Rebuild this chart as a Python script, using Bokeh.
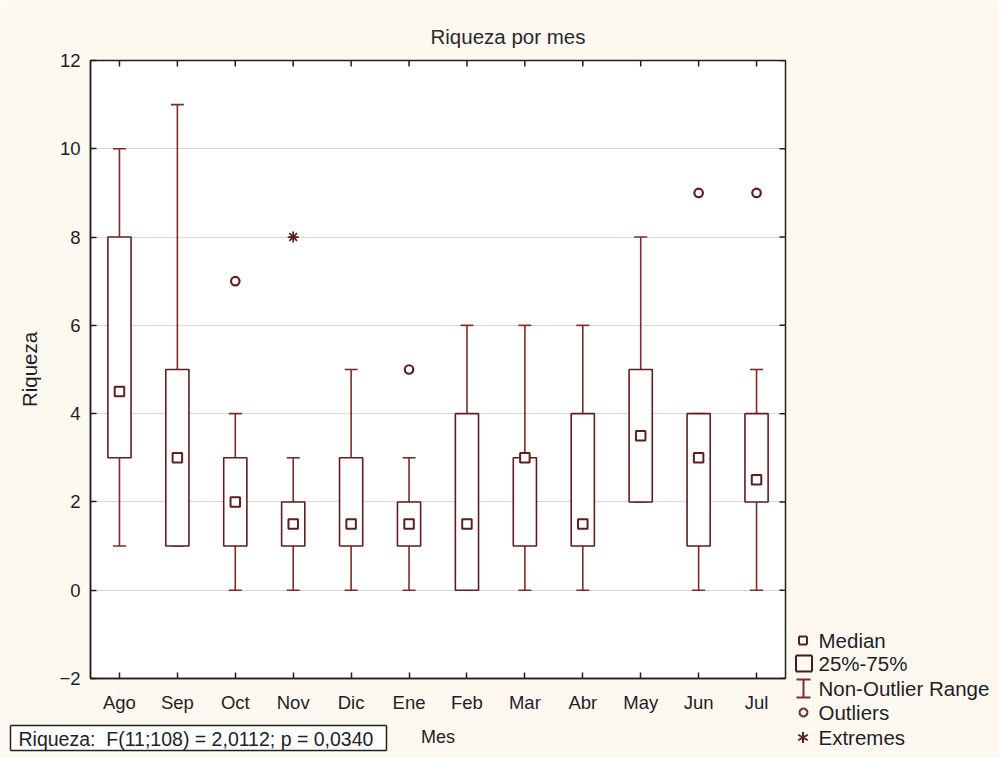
import numpy as np
from bokeh.plotting import figure
from bokeh.models import Range1d, FixedTicker, ColumnDataSource
from bokeh.core.properties import value
from bokeh.embed import file_html
from bokeh.resources import INLINE

# Monthly richness summary (box-and-whisker statistics)
months = ["Ago", "Sep", "Oct", "Nov", "Dic", "Ene", "Feb", "Mar", "Abr", "May", "Jun", "Jul"]
median = [4.5, 3, 2, 1.5, 1.5, 1.5, 1.5, 3, 1.5, 3.5, 3, 2.5]
q1 = [3, 1, 1, 1, 1, 1, 0, 1, 1, 2, 1, 2]
q3 = [8, 5, 3, 2, 3, 2, 4, 3, 4, 5, 4, 4]
lo = [1, 1, 0, 0, 0, 0, 0, 0, 0, 2, 0, 0]
hi = [10, 11, 4, 3, 5, 3, 6, 6, 6, 8, 4, 5]
outlier_month = ["Oct", "Ene", "Jun", "Jul"]
outlier_val = [7, 5, 9, 9]
extreme_month = ["Nov"]
extreme_val = [8]
y_ticks = [-2, 0, 2, 4, 6, 8, 10, 12]
stat_text = "Riqueza:\u00a0\u00a0F(11;108) = 2,0112; p = 0,0340"
legend_labels = ["Median", "25%-75%", "Non-Outlier Range", "Outliers", "Extremes"]

BG = "#fdf9f0"
BOX = "#5e1e1e"
WHISK = "#7f2a2a"
FRAME = "#202020"
FONT = "Liberation Sans"
TXT = "#1e1e28"
W, H = 999, 758
LEFT, RIGHT, TOP, BOTTOM = 90, 214, 60, 80
FR_R, FR_B = W - RIGHT, H - BOTTOM

pos = list(range(len(months)))
src = ColumnDataSource(dict(x=pos, med=median, q1=q1, q3=q3, lo=lo, hi=hi))
out_x = [months.index(m) for m in outlier_month]
ext_x = [months.index(m) for m in extreme_month]

p = figure(
    x_range=Range1d(-0.5, len(months) - 0.5),
    y_range=Range1d(-2, 12),
    width=W, height=H,
    min_border_left=LEFT, min_border_right=RIGHT,
    min_border_top=TOP, min_border_bottom=BOTTOM,
    output_backend="svg", toolbar_location=None,
    background_fill_color="white", border_fill_color=BG,
    title="Riqueza por mes",
)
# pixel-space ranges (canvas coordinates) for marks drawn around the frame
p.extra_x_ranges = {"px": Range1d(LEFT, FR_R)}
p.extra_y_ranges = {"py": Range1d(FR_B, TOP)}
canvas = dict(x_range_name="px", y_range_name="py", level="overlay")

p.title.align = "left"
p.title.offset = 340
p.title.text_font = FONT
p.title.text_font_size = "20.5px"
p.title.text_font_style = "normal"
p.title.text_color = "#2a2a2a"
p.title.standoff = 26

p.outline_line_color = FRAME
p.outline_line_width = 1.5
p.xgrid.grid_line_color = None
p.ygrid.grid_line_color = "#d6d6d6"
p.ygrid.grid_line_width = 1.2

bottom_axis = p.xaxis[0]
left_axis = p.yaxis[0]
for ax in (bottom_axis, left_axis):
    ax.major_tick_in = 6
    ax.major_tick_out = 0
    ax.minor_tick_in = 0
    ax.minor_tick_out = 0
    ax.axis_line_color = FRAME
    ax.axis_line_width = 1.5
    ax.major_tick_line_color = FRAME
    ax.major_tick_line_width = 1.5
    ax.major_label_text_font = FONT
    ax.major_label_text_font_size = "18.5px"
    ax.major_label_text_color = TXT
    ax.axis_label_text_font = FONT
    ax.axis_label_text_font_style = "normal"
    ax.axis_label_text_color = TXT

bottom_axis.ticker = FixedTicker(ticks=pos)
bottom_axis.major_label_overrides = {i: m for i, m in zip(pos, months)}
bottom_axis.axis_label = "Mes"
bottom_axis.axis_label_text_font_size = "18px"
bottom_axis.major_label_standoff = 13
bottom_axis.axis_label_standoff = 11

left_axis.ticker = FixedTicker(ticks=y_ticks)
left_axis.axis_label = "Riqueza"
left_axis.axis_label_text_font_size = "20.5px"
left_axis.major_label_standoff = 10
left_axis.axis_label_standoff = 15

# inward ticks on the top and right edges of the frame
n = len(pos)
p.segment(x0=pos, x1=pos, y0=[TOP] * n, y1=[TOP + 6] * n, y_range_name="py",
          line_color=FRAME, line_width=1.5)
m = len(y_ticks)
p.segment(x0=[FR_R] * m, x1=[FR_R - 6] * m, y0=y_ticks, y1=y_ticks, x_range_name="px",
          line_color=FRAME, line_width=1.5)

# whisker stems, caps, boxes and medians
p.segment(x0="x", y0="lo", x1="x", y1="q1", source=src, line_color=WHISK, line_width=1.6)
p.segment(x0="x", y0="q3", x1="x", y1="hi", source=src, line_color=WHISK, line_width=1.6)
p.scatter(x="x", y="lo", source=src, marker="dash", size=13, line_color=WHISK, line_width=1.6)
p.scatter(x="x", y="hi", source=src, marker="dash", size=13, line_color=WHISK, line_width=1.6)
p.vbar(x="x", bottom="q1", top="q3", width=0.4, source=src,
       fill_color="white", line_color=BOX, line_width=1.6)
p.scatter(x="x", y="med", source=src, marker="square", size=9.5,
          fill_color="white", line_color=BOX, line_width=2)
p.scatter(x=out_x, y=outlier_val, marker="circle", size=8.5,
          fill_color="white", line_color=BOX, line_width=2.2)
p.scatter(x=ext_x, y=extreme_val, marker="asterisk", size=11,
          line_color=BOX, line_width=1.7)

# statistics box below the plot
SX0, SX1, SY0, SY1 = 10, 386, 725, 750
p.patch(x=[SX0, SX1, SX1, SX0], y=[SY0, SY0, SY1, SY1], fill_color="white",
        line_color=None, **canvas)
p.segment(x0=[SX0, SX1, SX1, SX0], y0=[SY0, SY0, SY1, SY1],
          x1=[SX1, SX1, SX0, SX0], y1=[SY0, SY1, SY1, SY0],
          line_color=FRAME, line_width=1.5, **canvas)
p.text(x=[SX0 + 8], y=[(SY0 + SY1) / 2 + 1], text=[stat_text], text_font=value(FONT),
       text_font_size=value("19.5px"), text_color=TXT, text_baseline="middle", **canvas)

# key to the right of the frame, drawn as line work in canvas coordinates
rows_y = [640, 663, 688, 712, 737]
KX = 803
kx0, kx1, ky0, ky1, kcol = [], [], [], [], []


def seg(a, b, c, d, col):
    kx0.append(a); ky0.append(b); kx1.append(c); ky1.append(d); kcol.append(col)


def rect(cx, cy, hw, col):
    pts = [(cx - hw, cy - hw), (cx + hw, cy - hw), (cx + hw, cy + hw), (cx - hw, cy + hw)]
    for i in range(4):
        (a, b), (c, d) = pts[i], pts[(i + 1) % 4]
        seg(a, b, c, d, col)


rect(KX - 0.5, rows_y[0], 4, BOX)
rect(KX + 0.5, rows_y[1], 8, "#3a2020")
y_top, y_bot = rows_y[2] - 9, rows_y[2] + 9
seg(KX, y_top, KX, y_bot, WHISK)
seg(KX - 7, y_top, KX + 7, y_top, WHISK)
seg(KX - 7, y_bot, KX + 7, y_bot, WHISK)
t = np.linspace(0, 2 * np.pi, 17)
for i in range(16):
    seg(KX + 4 * np.cos(t[i]), rows_y[3] + 4 * np.sin(t[i]),
        KX + 4 * np.cos(t[i + 1]), rows_y[3] + 4 * np.sin(t[i + 1]), BOX)
for ang in (90, 30, 150):
    dx, dy = 5.5 * np.cos(np.radians(ang)), 5.5 * np.sin(np.radians(ang))
    seg(KX - 0.5 - dx, rows_y[4] - dy, KX - 0.5 + dx, rows_y[4] + dy, BOX)

p.segment(x0=kx0, y0=ky0, x1=kx1, y1=ky1, line_color=kcol, line_width=2, **canvas)

p.text(x=[818] * len(legend_labels), y=rows_y, text=legend_labels, text_font=value(FONT),
       text_font_size=value("20.5px"), text_color=TXT, text_baseline="middle", **canvas)

open("out.html", "w").write(file_html(p, INLINE))
